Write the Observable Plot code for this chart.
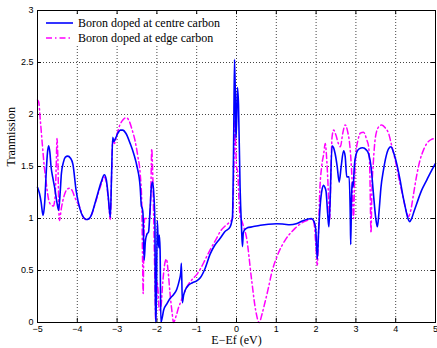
<!DOCTYPE html>
<html>
<head>
<meta charset="utf-8">
<script src="https://cdn.jsdelivr.net/npm/d3@7"></script>
<script src="https://cdn.jsdelivr.net/npm/@observablehq/plot@0.6"></script>
<style>
  html, body { margin: 0; padding: 0; background: #fff; }
  #wrap { position: relative; width: 437px; height: 348px; }
  #legend { position: absolute; left: 44px; top: 14px; width: 182px; height: 32px; background: #fff; font-family: "Liberation Serif", serif; font-size: 12px; color: #000; }
  #legend .row { position: absolute; left: 0; height: 14px; display: flex; align-items: center; }
  #legend svg { display: block; }
  #legend span { margin-left: 4px; white-space: nowrap; }
</style>
</head>
<body>
<div id="wrap"><div id="legend"></div></div>
<script>
// Series labels
const seriesNames = ["Boron doped at centre carbon", "Boron doped at edge carbon"];
const seriesColors = ["#0000ff", "#ff00ff"];

// Boron doped at centre carbon
const centreE = [-5,-4.95,-4.91,-4.86,-4.82,-4.78,-4.75,-4.72,-4.69,-4.66,-4.61,-4.57,-4.51,-4.47,-4.43,-4.40,-4.35,-4.30,-4.24,-4.17,-4.11,-4.03,-3.94,-3.86,-3.78,-3.70,-3.65,-3.53,-3.40,-3.32,-3.27,-3.22,-3.17,-3.14,-3.11,-3.08,-3.04,-2.98,-2.92,-2.86,-2.78,-2.67,-2.58,-2.50,-2.42,-2.39,-2.37,-2.35,-2.32,-2.29,-2.25,-2.21,-2.17,-2.14,-2.11,-2.08,-2.05,-2.035,-2.02,-1.99,-1.97,-1.95,-1.94,-1.92,-1.90,-1.87,-1.83,-1.75,-1.67,-1.58,-1.50,-1.44,-1.40,-1.385,-1.36,-1.33,-1.29,-1.20,-1.12,-1.00,-0.91,-0.80,-0.66,-0.55,-0.41,-0.30,-0.16,-0.12,-0.10,-0.07,-0.05,-0.03,-0.015,0.005,0.025,0.05,0.09,0.125,0.15,0.17,0.20,0.27,0.40,0.60,0.80,1.00,1.20,1.34,1.50,1.65,1.80,1.88,1.95,1.99,2.03,2.06,2.10,2.15,2.19,2.22,2.25,2.29,2.32,2.35,2.40,2.44,2.48,2.53,2.58,2.63,2.69,2.73,2.77,2.83,2.86,2.87,2.89,2.91,2.93,2.96,3.00,3.08,3.17,3.26,3.32,3.38,3.44,3.50,3.54,3.58,3.63,3.69,3.76,3.82,3.88,3.95,4.03,4.11,4.18,4.24,4.30,4.35,4.40,4.47,4.53,4.65,4.78,4.90,5.00];
const centreT = [1.30,1.24,1.16,1.03,1.15,1.45,1.63,1.70,1.64,1.50,1.38,1.30,1.15,1.08,1.25,1.43,1.54,1.59,1.60,1.58,1.52,1.27,1.10,1.02,0.99,1.00,1.03,1.18,1.35,1.42,1.37,1.20,1.01,1.40,1.78,1.74,1.77,1.82,1.85,1.85,1.82,1.72,1.62,1.50,1.30,1.12,1.10,1.05,0.60,0.78,0.85,0.87,1.10,1.30,1.35,1.25,0.96,0.0,0.0,0.98,0.80,0.72,0.84,0.70,0.0,0.04,0.12,0.18,0.23,0.27,0.32,0.40,0.48,0.57,0.19,0.26,0.31,0.36,0.38,0.40,0.43,0.51,0.66,0.74,0.81,0.87,0.92,0.97,1.02,1.80,2.53,2.20,1.77,1.95,2.26,2.10,1.30,0.92,0.73,0.86,0.89,0.91,0.92,0.935,0.945,0.95,0.945,0.94,0.95,0.975,0.995,1.00,0.97,0.90,0.61,0.85,1.11,1.28,1.32,1.30,1.26,1.05,0.92,1.15,1.70,1.68,1.62,1.50,1.35,1.50,1.65,1.60,1.40,1.40,1.00,0.75,1.20,1.35,1.30,1.50,1.61,1.67,1.68,1.66,1.62,1.50,1.24,1.00,0.92,1.06,1.30,1.46,1.60,1.67,1.69,1.63,1.52,1.37,1.22,1.11,1.01,0.97,1.00,1.08,1.145,1.27,1.37,1.46,1.53];

// Boron doped at edge carbon
const edgeE = [-5,-4.97,-4.93,-4.88,-4.83,-4.78,-4.72,-4.66,-4.60,-4.56,-4.53,-4.51,-4.49,-4.47,-4.45,-4.40,-4.33,-4.26,-4.20,-4.13,-4.07,-3.94,-3.86,-3.78,-3.70,-3.65,-3.53,-3.40,-3.33,-3.27,-3.22,-3.17,-3.14,-3.11,-3.07,-3.01,-2.93,-2.85,-2.77,-2.70,-2.62,-2.55,-2.48,-2.42,-2.38,-2.36,-2.345,-2.33,-2.31,-2.25,-2.18,-2.15,-2.13,-2.11,-2.08,-2.05,-2.03,-2.00,-1.97,-1.94,-1.90,-1.85,-1.80,-1.76,-1.72,-1.67,-1.62,-1.58,-1.52,-1.45,-1.41,-1.33,-1.25,-1.10,-1.00,-0.90,-0.78,-0.66,-0.50,-0.40,-0.28,-0.16,-0.10,-0.07,-0.04,-0.02,0.00,0.03,0.06,0.09,0.13,0.18,0.25,0.38,0.48,0.57,0.64,0.71,0.80,0.88,1.05,1.22,1.47,1.65,1.80,1.91,1.96,2.00,2.03,2.06,2.09,2.14,2.19,2.23,2.27,2.31,2.34,2.37,2.40,2.44,2.50,2.56,2.61,2.67,2.73,2.79,2.85,2.90,2.94,2.97,3.00,3.05,3.11,3.19,3.27,3.32,3.35,3.38,3.40,3.44,3.49,3.57,3.65,3.74,3.82,3.90,3.99,4.10,4.20,4.27,4.32,4.38,4.45,4.53,4.61,4.70,4.78,4.90,5.00];
const edgeT = [2.14,2.12,1.95,1.72,1.50,1.34,1.18,1.13,1.12,1.20,1.50,1.77,1.60,1.20,0.98,1.10,1.22,1.28,1.29,1.27,1.21,1.11,1.02,0.99,1.00,1.03,1.17,1.33,1.40,1.35,1.18,0.99,1.40,1.75,1.72,1.80,1.90,1.95,1.97,1.94,1.85,1.75,1.60,1.43,1.15,0.60,0.28,0.70,1.00,1.00,1.00,1.30,1.67,1.50,1.00,0.40,0.02,0.40,0.30,0.12,0.15,0.40,0.57,0.61,0.50,0.28,0.10,0.00,0.06,0.15,0.19,0.27,0.34,0.42,0.46,0.52,0.61,0.70,0.81,0.88,0.93,0.97,1.00,1.40,1.95,1.70,1.50,1.45,1.20,1.02,0.98,0.92,0.82,0.41,0.12,0.00,0.08,0.185,0.33,0.47,0.665,0.79,0.905,0.96,0.985,0.995,0.92,0.70,0.55,0.85,1.24,1.50,1.62,1.72,1.55,1.24,0.985,1.40,1.78,1.85,1.80,1.72,1.69,1.82,1.90,1.84,1.69,1.40,1.00,1.40,1.63,1.75,1.82,1.83,1.76,1.69,1.45,0.86,1.24,1.55,1.78,1.88,1.90,1.87,1.82,1.70,1.56,1.35,1.18,1.06,1.02,1.08,1.24,1.42,1.56,1.66,1.72,1.76,1.77];

// Ticks and axis labels
const xTicks = [-5,-4,-3,-2,-1,0,1,2,3,4,5];
const yTicks = [0,0.5,1,1.5,2,2.5,3];
const xLabel = "E\u2212Ef (eV)";
const yLabel = "Tranmission";

const centre = centreE.map((e, i) => ({e, t: centreT[i]}));
const edge = edgeE.map((e, i) => ({e, t: edgeT[i]}));

const fmt = d => (d < 0 ? "\u2212" + String(-d) : String(d));
const dash = "6,3,1.5,3";

const chart = Plot.plot({
  width: 437,
  height: 348,
  marginLeft: 37,
  marginRight: 2,
  marginTop: 10,
  marginBottom: 26,
  style: {fontFamily: "'Liberation Sans', sans-serif", fontSize: "9px", background: "#fff", color: "#000"},
  x: {domain: [-5, 5], ticks: xTicks, label: null},
  y: {domain: [0, 3], ticks: yTicks, label: null},
  marks: [
    Plot.gridX(xTicks, {stroke: "#444", strokeOpacity: 1, strokeDasharray: "1,2"}),
    Plot.gridY(yTicks, {stroke: "#444", strokeOpacity: 1, strokeDasharray: "1,2"}),
    Plot.ruleX(xTicks, {y1: 0, y2: 0.04, stroke: "#000"}),
    Plot.ruleX(xTicks, {y1: 2.96, y2: 3, stroke: "#000"}),
    Plot.ruleY(yTicks, {x1: -5, x2: -4.9, stroke: "#000"}),
    Plot.ruleY(yTicks, {x1: 4.9, x2: 5, stroke: "#000"}),
    Plot.line(edge, {x: "e", y: "t", stroke: seriesColors[1], strokeWidth: 1.5, strokeDasharray: dash, curve: "monotone-x"}),
    Plot.line(centre, {x: "e", y: "t", stroke: seriesColors[0], strokeWidth: 1.6, curve: "monotone-x"}),
    Plot.axisX(xTicks, {tickSize: 0, tickPadding: 3, fontSize: 9, tickFormat: fmt}),
    Plot.axisY(yTicks, {tickSize: 0, tickPadding: 4, fontSize: 9, tickFormat: fmt}),
    Plot.frame({stroke: "#000", strokeWidth: 1}),
    Plot.text([xLabel], {frameAnchor: "bottom", dy: 21, fontFamily: "'Liberation Serif', serif", fontSize: 12, fill: "#000"}),
    Plot.text([yLabel], {frameAnchor: "left", dx: -26, rotate: -90, fontFamily: "'Liberation Serif', serif", fontSize: 12, fill: "#000"})
  ]
});
document.getElementById("wrap").prepend(chart);

// Legend
const legend = document.getElementById("legend");
seriesNames.forEach((name, i) => {
  const row = document.createElement("div");
  row.className = "row";
  row.style.top = (i === 0 ? 2 : 17) + "px";
  row.innerHTML = `<svg width="30" height="6"><line x1="2" x2="29" y1="3" y2="3" stroke="${seriesColors[i]}" stroke-width="1.6" ${i === 1 ? `stroke-dasharray="${dash}"` : ""}/></svg><span>${name}</span>`;
  legend.appendChild(row);
});
</script>
</body>
</html>
